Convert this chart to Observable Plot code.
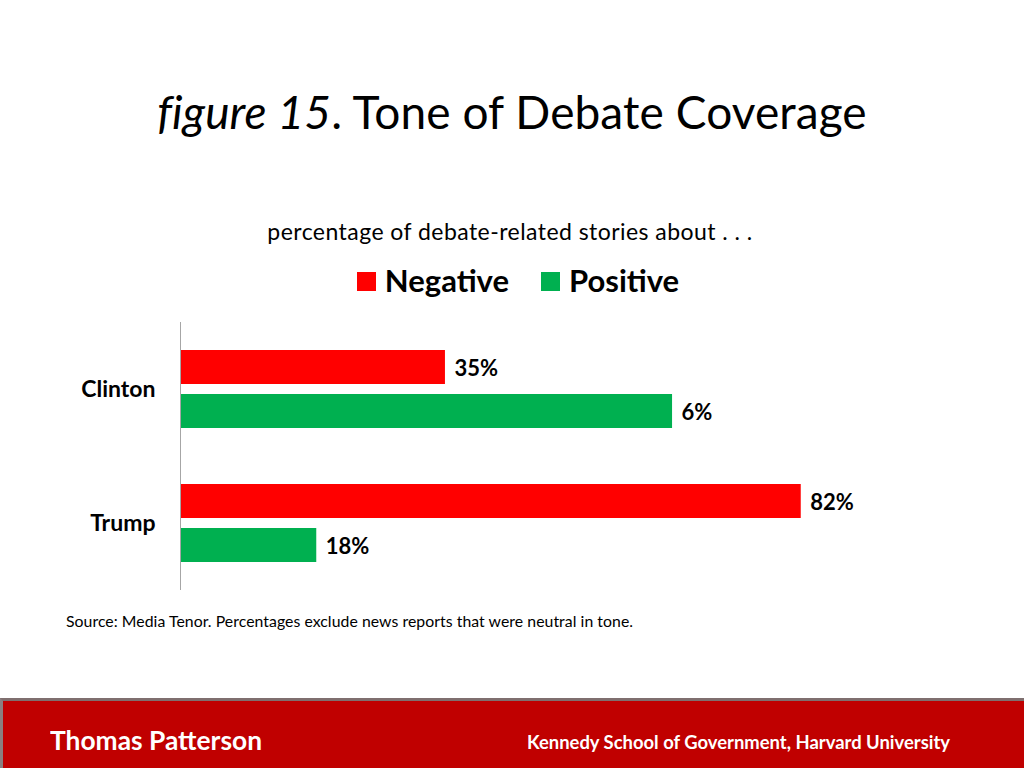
<!DOCTYPE html>
<html>
<head>
<meta charset="utf-8">
<script src="https://cdn.jsdelivr.net/npm/d3@7"></script>
<script src="https://cdn.jsdelivr.net/npm/@observablehq/plot@0.6"></script>
<style>
  html, body { margin: 0; padding: 0; background: #fff; }
  body { width: 1024px; height: 768px; position: relative; overflow: hidden; font-family: Lato, "Open Sans", sans-serif; }
  .abs { position: absolute; white-space: nowrap; }
  #title { left: 0px; width: 1024px; top: 82px; text-align: center; font-size: 46px; letter-spacing: 0.1px; color: #000; line-height: 60px; }
  #subtitle { left: -2px; width: 1024px; top: 217px; text-align: center; font-size: 23px; letter-spacing: 0.45px; color: #000; line-height: 28px; }
  #legend { left: 6px; width: 1024px; top: 261px; text-align: center; font-size: 31px; font-weight: bold; line-height: 38px; }
  .sw { display: inline-block; width: 19px; height: 19px; margin-right: 9px; vertical-align: 1px; }
  #chart { left: 0; top: 320px; }
  #source { left: 66px; top: 611px; font-size: 15.8px; letter-spacing: 0.05px; color: #000; }
  #footer { left: 0; top: 698px; width: 1024px; height: 70px; background: #C00000; border-top: 3px solid #7f6f6f; border-left: 3px solid #8a7f80; box-sizing: border-box; }
  #f1 { left: 50px; top: 724px; font-size: 26px; font-weight: bold; color: #fff; transform-origin: 0 0; }
  #f2 { left: 527px; top: 730px; font-size: 19px; font-weight: bold; color: #fff; transform-origin: 0 0; }
</style>
</head>
<body>
<div id="title" class="abs"><i>figure 15</i>. Tone of Debate Coverage</div>
<div id="subtitle" class="abs">percentage of debate-related stories about . . .</div>
<div id="legend" class="abs"></div>
<div id="chart" class="abs"></div>
<div id="source" class="abs">Source: Media Tenor. Percentages exclude news reports that were neutral in tone.</div>
<div id="footer" class="abs"></div>
<div id="f1" class="abs">Thomas Patterson</div>
<div id="f2" class="abs">Kennedy School of Government, Harvard University</div>
<script>
// Data
const candidates = ["Clinton", "Trump"];
const tones = ["Negative", "Positive"];
const toneColors = ["#FF0000", "#00B050"];
// bar lengths as drawn in the picture
const clintonValues = [35, 65];
const trumpValues = [82, 18];
// data labels as printed in the picture
const clintonLabels = ["35%", "6%"];
const trumpLabels = ["82%", "18%"];

const data = [];
tones.forEach((t, i) => data.push({candidate: "Clinton", tone: t, value: clintonValues[i], label: clintonLabels[i]}));
tones.forEach((t, i) => data.push({candidate: "Trump", tone: t, value: trumpValues[i], label: trumpLabels[i]}));

// legend
const legend = document.getElementById("legend");
legend.innerHTML = tones.map((t, i) =>
  `<span style="margin:0 16px"><span class="sw" style="background:${toneColors[i]}"></span>${t}</span>`
).join("");

const chart = Plot.plot({
  width: 1024,
  height: 272,
  marginTop: 2,
  marginBottom: 2,
  marginLeft: 180,
  marginRight: 87,
  style: {fontFamily: "Lato, sans-serif", background: "transparent"},
  x: {domain: [0, 100], axis: null},
  y: {domain: tones, axis: null, paddingInner: 0.2222, paddingOuter: 0.6},
  fy: {domain: candidates, padding: 0, label: null},
  color: {domain: tones, range: toneColors},
  marks: [
    Plot.axisFy({anchor: "left", tickSize: 0, tickPadding: 25, fontSize: 23, fontWeight: "bold", label: null, fill: "#000"}),
    Plot.barX(data, {fy: "candidate", y: "tone", x: "value", fill: "tone"}),
    Plot.ruleX([0], {stroke: "#a6a6a6", strokeWidth: 1}),
    Plot.text(data, {fy: "candidate", y: "tone", x: "value", text: "label", dx: 9, dy: 1, textAnchor: "start", fontSize: 22, fontWeight: "bold", fill: "#000"})
  ]
});
document.getElementById("chart").appendChild(chart);

// condense footer texts to their widths
function fitWidth(id, w) {
  const el = document.getElementById(id);
  const cur = el.getBoundingClientRect().width;
  el.style.transform = `scaleX(${w / cur})`;
}
fitWidth("f1", 212);
fitWidth("f2", 423);
</script>
</body>
</html>
